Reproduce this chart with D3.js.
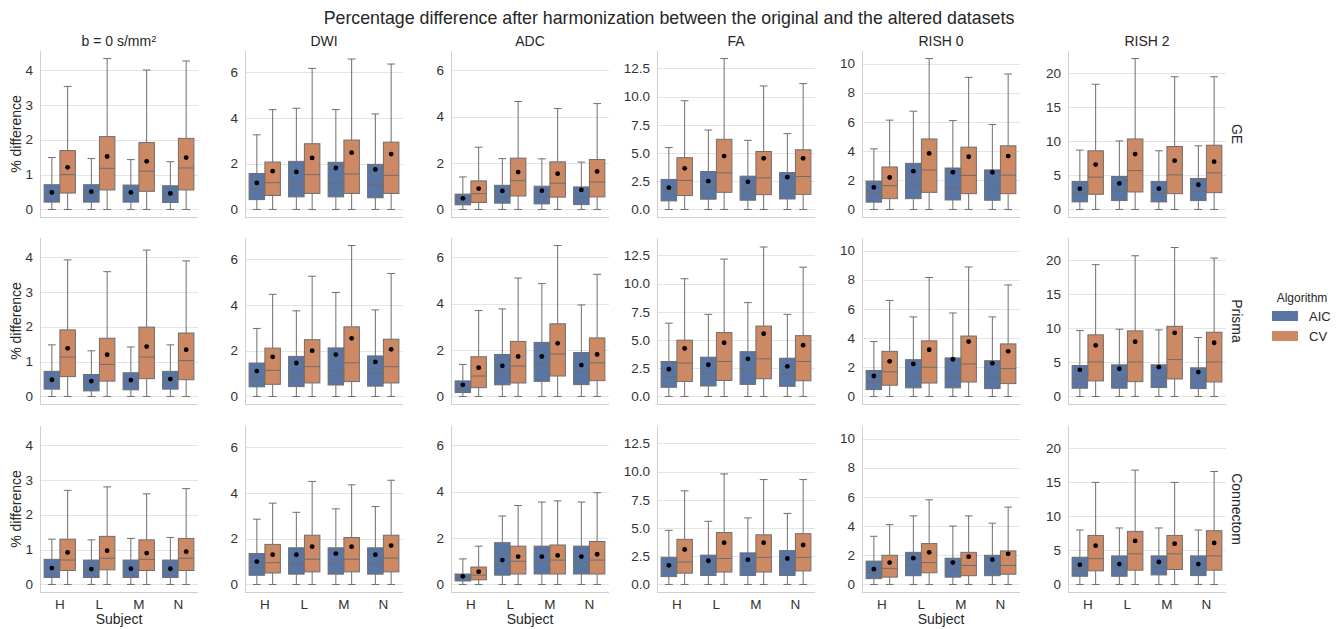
<!DOCTYPE html>
<html lang="en">
<head>
<meta charset="utf-8">
<title>Percentage difference after harmonization</title>
<script src="https://cdn.jsdelivr.net/npm/d3@7"></script>
<style>
  body { margin: 0; background: #fff; }
  svg { font-family: "Liberation Sans", Arial, sans-serif; fill: #262626; }
  .grid line { stroke: #e4e4e4; stroke-width: 1; }
  .spine { stroke: #cfcfcf; stroke-width: 1; }
  .tick-label { font-size: 13.5px; fill: #333; }
  .col-title, .row-title, .axis-label { font-size: 14px; fill: #262626; }
  .whisker, .cap, .median, .box { stroke: #6e6e6e; stroke-width: 1; }
</style>
</head>
<body>
<svg id="chart" width="1338" height="629"></svg>
<script>
var subjects = ["H", "L", "M", "N"];
var algorithms = ["AIC", "CV"];
var metrics = ["b = 0 s/mm", "DWI", "ADC", "FA", "RISH 0", "RISH 2"];
var scanners = ["GE", "Prisma", "Connectom"];
var colors = ["#5975a4", "#cc8963"];

var yTicks = [
  [0, 1, 2, 3, 4],
  [0, 2, 4, 6],
  [0, 2, 4, 6],
  [0, 2.5, 5, 7.5, 10, 12.5],
  [0, 2, 4, 6, 8, 10],
  [0, 5, 10, 15, 20]
];

// one line per box: [low, q1, median, q3, high, mean]
// order: H-AIC, H-CV, L-AIC, L-CV, M-AIC, M-CV, N-AIC, N-CV
var ge_b0 = [
  [0, 0.21, 0.44, 0.71, 1.49, 0.49], [0, 0.47, 1.00, 1.69, 3.53, 1.21],
  [0, 0.21, 0.44, 0.71, 1.46, 0.51], [0, 0.56, 1.18, 2.09, 4.33, 1.52],
  [0, 0.21, 0.42, 0.70, 1.43, 0.49], [0, 0.52, 1.10, 1.92, 4.00, 1.38],
  [0, 0.20, 0.41, 0.68, 1.37, 0.46], [0, 0.56, 1.19, 2.04, 4.26, 1.49]
];
var ge_dwi = [
  [0, 0.43, 0.90, 1.57, 3.26, 1.16], [0, 0.61, 1.17, 2.07, 4.36, 1.67],
  [0, 0.55, 1.13, 2.10, 4.42, 1.64], [0, 0.70, 1.52, 2.87, 6.16, 2.25],
  [0, 0.55, 1.14, 2.06, 4.36, 1.81], [0, 0.70, 1.55, 3.03, 6.57, 2.48],
  [0, 0.51, 1.09, 1.97, 4.17, 1.75], [0, 0.70, 1.49, 2.94, 6.35, 2.42]
];
var ge_adc = [
  [0, 0.20, 0.36, 0.66, 1.40, 0.48], [0, 0.30, 0.68, 1.23, 2.68, 0.90],
  [0, 0.27, 0.56, 1.04, 2.19, 0.80], [0, 0.58, 1.24, 2.21, 4.65, 1.61],
  [0, 0.24, 0.54, 1.00, 2.18, 0.81], [0, 0.53, 1.13, 2.05, 4.35, 1.54],
  [0, 0.21, 0.51, 0.97, 2.04, 0.84], [0, 0.54, 1.18, 2.15, 4.56, 1.64]
];
var ge_fa = [
  [0, 0.76, 1.58, 2.66, 5.49, 1.93], [0, 1.23, 2.57, 4.59, 9.64, 3.65],
  [0, 0.91, 1.93, 3.36, 7.04, 2.51], [0, 1.52, 3.24, 6.22, 13.38, 4.73],
  [0, 0.82, 1.81, 2.95, 6.13, 2.45], [0, 1.31, 2.80, 5.14, 10.95, 4.53],
  [0, 0.93, 1.90, 3.27, 6.72, 2.86], [0, 1.34, 2.92, 5.29, 11.16, 4.53]
];
var ge_rish0 = [
  [0, 0.50, 1.11, 1.94, 4.15, 1.51], [0, 0.74, 1.63, 2.91, 6.12, 2.19],
  [0, 0.74, 1.63, 3.16, 6.73, 2.62], [0, 1.17, 2.71, 4.83, 10.34, 3.84],
  [0, 0.65, 1.44, 2.84, 6.09, 2.55], [0, 1.08, 2.33, 4.27, 9.05, 3.61],
  [0, 0.63, 1.42, 2.71, 5.82, 2.55], [0, 1.08, 2.35, 4.36, 9.28, 3.66]
];
var ge_rish2 = [
  [0, 1.11, 2.37, 4.12, 8.72, 3.05], [0, 2.23, 4.75, 8.62, 18.4, 6.59],
  [0, 1.31, 2.76, 4.84, 10.07, 3.83], [0, 2.57, 5.71, 10.36, 22.18, 8.14],
  [0, 1.11, 2.42, 4.12, 8.62, 3.05], [0, 2.32, 5.08, 9.25, 19.5, 7.17],
  [0, 1.31, 2.66, 4.55, 9.35, 3.63], [0, 2.47, 5.38, 9.44, 19.5, 7.02]
];

var prisma_b0 = [
  [0, 0.21, 0.44, 0.72, 1.48, 0.48], [0, 0.57, 1.13, 1.91, 3.92, 1.38],
  [0, 0.16, 0.37, 0.63, 1.31, 0.44], [0, 0.44, 0.92, 1.67, 3.58, 1.20],
  [0, 0.19, 0.41, 0.68, 1.42, 0.47], [0, 0.51, 1.13, 1.99, 4.20, 1.43],
  [0, 0.21, 0.43, 0.72, 1.48, 0.50], [0, 0.48, 1.03, 1.82, 3.89, 1.34]
];
var prisma_dwi = [
  [0, 0.42, 0.85, 1.46, 2.97, 1.11], [0, 0.53, 1.14, 2.11, 4.46, 1.73],
  [0, 0.43, 0.97, 1.75, 3.74, 1.46], [0, 0.59, 1.30, 2.48, 5.25, 2.00],
  [0, 0.50, 1.11, 2.12, 4.54, 1.83], [0, 0.65, 1.47, 3.04, 6.59, 2.54],
  [0, 0.45, 1.00, 1.77, 3.78, 1.51], [0, 0.59, 1.30, 2.50, 5.37, 2.06]
];
var prisma_adc = [
  [0, 0.17, 0.34, 0.67, 1.38, 0.50], [0, 0.38, 0.88, 1.71, 3.70, 1.24],
  [0, 0.50, 1.05, 1.81, 3.77, 1.32], [0, 0.58, 1.31, 2.37, 5.10, 1.72],
  [0, 0.65, 1.37, 2.33, 4.86, 1.72], [0, 0.88, 1.83, 3.13, 6.50, 2.29],
  [0, 0.51, 1.07, 1.89, 3.94, 1.35], [0, 0.68, 1.45, 2.52, 5.26, 1.81]
];
var prisma_fa = [
  [0, 0.81, 1.77, 3.10, 6.50, 2.41], [0, 1.33, 2.96, 4.99, 10.44, 4.26],
  [0, 0.93, 2.03, 3.48, 7.28, 2.81], [0, 1.42, 3.10, 5.66, 12.18, 4.76],
  [0, 1.07, 2.35, 3.97, 8.32, 3.34], [0, 1.57, 3.34, 6.24, 13.25, 5.57],
  [0, 0.90, 2.03, 3.39, 7.28, 2.67], [0, 1.39, 3.10, 5.39, 11.46, 4.55]
];
var prisma_rish0 = [
  [0, 0.47, 0.97, 1.78, 3.76, 1.40], [0, 0.77, 1.69, 3.09, 6.58, 2.41],
  [0, 0.59, 1.28, 2.52, 5.45, 2.23], [0, 0.92, 2.00, 3.81, 8.15, 3.20],
  [0, 0.59, 1.28, 2.64, 5.72, 2.55], [0, 0.99, 2.23, 4.14, 8.87, 3.76],
  [0, 0.54, 1.28, 2.45, 5.45, 2.27], [0, 0.88, 1.91, 3.60, 7.64, 3.09]
];
var prisma_rish2 = [
  [0, 1.21, 2.66, 4.55, 9.69, 3.92], [0, 2.28, 5.08, 9.06, 19.37, 7.51],
  [0, 1.21, 2.61, 4.65, 9.88, 4.07], [0, 2.18, 5.08, 9.64, 20.68, 8.04],
  [0, 1.31, 2.76, 4.65, 9.78, 4.31], [0, 2.57, 5.42, 10.31, 21.89, 9.35],
  [0, 1.16, 2.52, 4.21, 8.67, 3.58], [0, 2.13, 5.08, 9.44, 20.34, 7.89]
];

var connectom_b0 = [
  [0, 0.20, 0.42, 0.72, 1.30, 0.47], [0, 0.40, 0.70, 1.30, 2.70, 0.92],
  [0, 0.20, 0.40, 0.70, 1.28, 0.44], [0, 0.42, 0.75, 1.38, 2.80, 0.97],
  [0, 0.20, 0.42, 0.70, 1.32, 0.45], [0, 0.40, 0.72, 1.28, 2.60, 0.90],
  [0, 0.20, 0.40, 0.70, 1.35, 0.45], [0, 0.40, 0.75, 1.32, 2.75, 0.94]
];
var connectom_dwi = [
  [0, 0.40, 0.75, 1.35, 2.85, 1.00], [0, 0.50, 0.95, 1.75, 3.55, 1.30],
  [0, 0.45, 0.90, 1.60, 3.15, 1.30], [0, 0.55, 1.10, 2.15, 4.50, 1.65],
  [0, 0.45, 0.90, 1.60, 3.30, 1.35], [0, 0.55, 1.10, 2.05, 4.35, 1.65],
  [0, 0.45, 0.90, 1.60, 3.40, 1.30], [0, 0.55, 1.15, 2.15, 4.55, 1.70]
];
var connectom_adc = [
  [0, 0.15, 0.28, 0.45, 1.10, 0.35], [0, 0.20, 0.40, 0.75, 1.65, 0.55],
  [0, 0.40, 0.85, 1.80, 2.95, 1.05], [0, 0.45, 1.00, 1.65, 3.40, 1.20],
  [0, 0.45, 1.00, 1.65, 3.55, 1.20], [0, 0.45, 1.05, 1.70, 3.60, 1.25],
  [0, 0.45, 0.95, 1.65, 3.55, 1.20], [0, 0.45, 1.05, 1.85, 3.95, 1.30]
];
var connectom_fa = [
  [0, 0.70, 1.30, 2.40, 4.80, 1.70], [0, 1.00, 2.00, 4.00, 8.30, 3.10],
  [0, 0.80, 1.50, 2.60, 5.60, 2.10], [0, 1.10, 2.30, 4.60, 9.80, 3.70],
  [0, 0.80, 1.60, 2.80, 5.90, 2.20], [0, 1.10, 2.40, 4.40, 9.30, 3.70],
  [0, 0.80, 1.60, 3.00, 6.30, 2.30], [0, 1.20, 2.40, 4.50, 9.30, 3.50]
];
var connectom_rish0 = [
  [0, 0.40, 0.80, 1.60, 3.30, 1.05], [0, 0.50, 1.10, 2.00, 4.10, 1.50],
  [0, 0.60, 1.30, 2.20, 4.70, 1.80], [0, 0.80, 1.50, 2.80, 5.80, 2.20],
  [0, 0.50, 1.10, 1.80, 4.00, 1.50], [0, 0.60, 1.30, 2.20, 4.70, 1.90],
  [0, 0.60, 1.20, 2.00, 4.20, 1.70], [0, 0.70, 1.30, 2.30, 5.30, 2.10]
];
var connectom_rish2 = [
  [0, 1.20, 2.30, 4.00, 8.00, 2.90], [0, 2.00, 3.80, 7.20, 15.0, 5.70],
  [0, 1.20, 2.50, 4.20, 8.30, 3.00], [0, 2.10, 4.50, 7.80, 16.8, 6.40],
  [0, 1.40, 2.60, 4.20, 8.30, 3.30], [0, 2.20, 4.50, 7.20, 15.0, 6.00],
  [0, 1.30, 2.40, 4.20, 8.00, 3.00], [0, 2.10, 4.20, 7.90, 16.6, 6.10]
];

var panels = [
  [ge_b0, ge_dwi, ge_adc, ge_fa, ge_rish0, ge_rish2],
  [prisma_b0, prisma_dwi, prisma_adc, prisma_fa, prisma_rish0, prisma_rish2],
  [connectom_b0, connectom_dwi, connectom_adc, connectom_fa, connectom_rish0, connectom_rish2]
];

var svg = d3.select("#chart");
var colLeft = [40, 245, 451, 657, 862, 1068];
var rowTop = [51, 238, 426];
var pw = 158, ph = 166;

svg.append("text")
    .attr("x", 669).attr("y", 24)
    .attr("text-anchor", "middle")
    .style("font-size", "17.8px")
    .text("Percentage difference after harmonization between the original and the altered datasets");

// y scale per column, shared by the three scanners
var yScales = metrics.map(function(m, c) {
  var hi = d3.max(panels, function(row) { return d3.max(row[c], function(b) { return b[4]; }); });
  return d3.scaleLinear().domain([-0.05 * hi, 1.05 * hi]).range([ph, 0]);
});

var x = d3.scaleBand().domain(subjects).range([0, pw]);
var xa = d3.scaleBand().domain(algorithms).range([0.1 * x.bandwidth(), 0.9 * x.bandwidth()]);
var bw = xa.bandwidth() * 0.98;

scanners.forEach(function(scanner, r) {
  metrics.forEach(function(metric, c) {
    var y = yScales[c];
    var g = svg.append("g").attr("transform", "translate(" + colLeft[c] + "," + rowTop[r] + ")");

    g.append("g").attr("class", "grid")
      .selectAll("line").data(yTicks[c]).enter().append("line")
        .attr("x1", 0).attr("x2", pw)
        .attr("y1", function(d) { return Math.round(y(d)) + 0.5; })
        .attr("y2", function(d) { return Math.round(y(d)) + 0.5; });

    g.append("line").attr("class", "spine")
      .attr("x1", 0.5).attr("x2", 0.5).attr("y1", 0).attr("y2", ph);
    g.append("line").attr("class", "spine")
      .attr("x1", 0).attr("x2", pw).attr("y1", ph + 0.5).attr("y2", ph + 0.5);

    g.selectAll(".tick-label").data(yTicks[c]).enter().append("text")
      .attr("class", "tick-label")
      .attr("x", -7)
      .attr("y", function(d) { return y(d); })
      .attr("dy", "0.35em")
      .attr("text-anchor", "end")
      .text(function(d) { return c === 3 ? d3.format(".1f")(d) : d; });

    var boxes = [];
    subjects.forEach(function(s, i) {
      algorithms.forEach(function(a, j) {
        var v = panels[r][c][i * 2 + j];
        boxes.push({cx: x(s) + xa(a) + xa.bandwidth() / 2, lo: v[0], q1: v[1], med: v[2], q3: v[3], hi: v[4], mean: v[5], color: colors[j]});
      });
    });

    var b = g.selectAll(".bx").data(boxes).enter().append("g").attr("class", "bx");
    b.append("line").attr("class", "whisker")
      .attr("x1", function(d) { return d.cx; }).attr("x2", function(d) { return d.cx; })
      .attr("y1", function(d) { return y(d.q3); }).attr("y2", function(d) { return y(d.hi); });
    b.append("line").attr("class", "whisker")
      .attr("x1", function(d) { return d.cx; }).attr("x2", function(d) { return d.cx; })
      .attr("y1", function(d) { return y(d.q1); }).attr("y2", function(d) { return y(d.lo); });
    ["hi", "lo"].forEach(function(k) {
      b.append("line").attr("class", "cap")
        .attr("x1", function(d) { return d.cx - bw / 4; }).attr("x2", function(d) { return d.cx + bw / 4; })
        .attr("y1", function(d) { return y(d[k]); }).attr("y2", function(d) { return y(d[k]); });
    });
    b.append("rect").attr("class", "box")
      .attr("x", function(d) { return d.cx - bw / 2; })
      .attr("width", bw)
      .attr("y", function(d) { return y(d.q3); })
      .attr("height", function(d) { return y(d.q1) - y(d.q3); })
      .attr("fill", function(d) { return d.color; });
    b.append("line").attr("class", "median")
      .attr("x1", function(d) { return d.cx - bw / 2; }).attr("x2", function(d) { return d.cx + bw / 2; })
      .attr("y1", function(d) { return y(d.med); }).attr("y2", function(d) { return y(d.med); });
    b.append("circle")
      .attr("cx", function(d) { return d.cx; })
      .attr("cy", function(d) { return y(d.mean); })
      .attr("r", 2.4)
      .attr("fill", "#000");

    if (r === 0) {
      var t = g.append("text").attr("class", "col-title")
        .attr("x", pw / 2).attr("y", -5).attr("text-anchor", "middle")
        .text(metric);
      if (c === 0) t.append("tspan").attr("dy", "-0.45em").style("font-size", "9.5px").text("2");
    }
    if (c === 0) {
      g.append("text").attr("class", "axis-label")
        .attr("transform", "translate(-19," + (ph / 2) + ") rotate(-90)")
        .attr("text-anchor", "middle")
        .text("% difference");
    }
    if (c === 5) {
      g.append("text").attr("class", "row-title")
        .attr("transform", "translate(" + (pw + 6) + "," + (ph / 2) + ") rotate(90)")
        .attr("text-anchor", "middle")
        .text(scanner);
    }
    if (r === 2) {
      g.selectAll(".xt").data(subjects).enter().append("text")
        .attr("class", "tick-label")
        .attr("x", function(d) { return x(d) + x.bandwidth() / 2; })
        .attr("y", ph + 17)
        .attr("text-anchor", "middle")
        .text(function(d) { return d; });
      if (c % 2 === 0) {
        g.append("text").attr("class", "axis-label")
          .attr("x", pw / 2).attr("y", ph + 32)
          .attr("text-anchor", "middle")
          .text("Subject");
      }
    }
  });
});

// legend
var lg = svg.append("g").attr("transform", "translate(1272,298)");
lg.append("text").attr("x", 30).attr("y", 4).attr("text-anchor", "middle")
  .style("font-size", "12px").text("Algorithm");
algorithms.forEach(function(a, i) {
  lg.append("rect").attr("x", 0).attr("y", 13 + i * 20).attr("width", 26).attr("height", 10)
    .attr("fill", colors[i]);
  lg.append("text").attr("x", 37).attr("y", 18 + i * 20).attr("dy", "0.35em")
    .style("font-size", "13px").text(a);
});
</script>
</body>
</html>
